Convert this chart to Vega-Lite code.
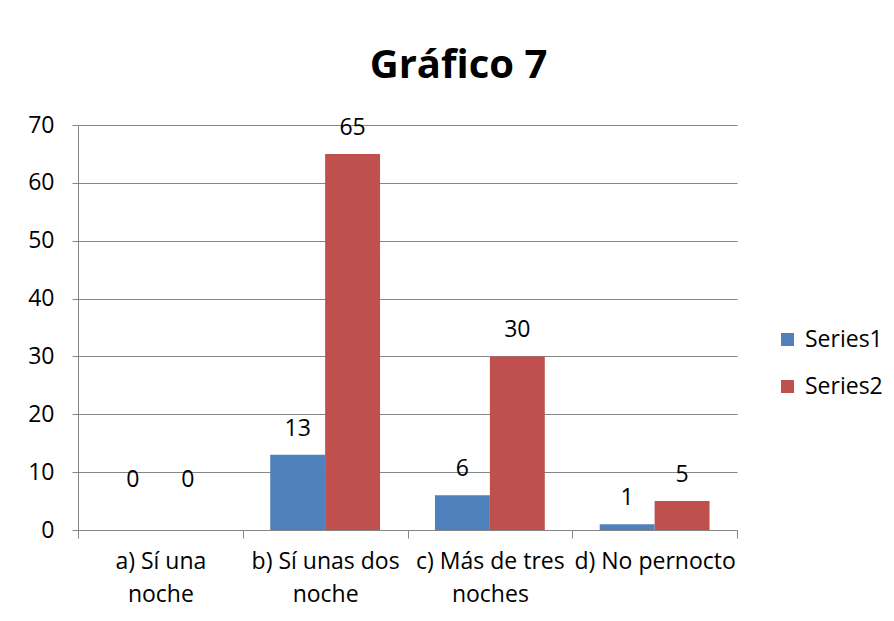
{
  "$schema": "https://vega.github.io/schema/vega-lite/v6.json",
  "width": 659,
  "height": 405,
  "autosize": {"type": "none"},
  "padding": {"left": 78, "top": 125, "right": 157, "bottom": 91},
  "background": "white",
  "title": {
    "text": "Gráfico 7",
    "font": "Open Sans",
    "fontSize": 40,
    "fontWeight": "bold",
    "color": "#000000",
    "anchor": "middle",
    "dx": 51,
    "offset": 28
  },
  "data": {
    "values": [
      {"cat": "a) Sí una noche", "series": "Series1", "v": 0},
      {"cat": "a) Sí una noche", "series": "Series2", "v": 0},
      {"cat": "b) Sí unas dos noche", "series": "Series1", "v": 13},
      {"cat": "b) Sí unas dos noche", "series": "Series2", "v": 65},
      {"cat": "c) Más de tres noches", "series": "Series1", "v": 6},
      {"cat": "c) Más de tres noches", "series": "Series2", "v": 30},
      {"cat": "d) No pernocto", "series": "Series1", "v": 1},
      {"cat": "d) No pernocto", "series": "Series2", "v": 5}
    ]
  },
  "encoding": {
    "x": {
      "field": "cat",
      "type": "nominal",
      "sort": null,
      "title": null,
      "scale": {"paddingInner": 0, "paddingOuter": 0},
      "axis": {
        "labelAngle": 0,
        "labelFont": "Open Sans",
        "labelFontSize": 23,
        "labelColor": "#000000",
        "labelLineHeight": 33,
        "labelPadding": 12,
        "labelLimit": 0,
        "labelOverlap": false,
        "tickBand": "extent",
        "tickSize": 8,
        "tickColor": "#868686",
        "domainColor": "#868686",
        "labelExpr": "datum.value == 'a) Sí una noche' ? ['a) Sí una', 'noche'] : datum.value == 'b) Sí unas dos noche' ? ['b) Sí unas dos', 'noche'] : datum.value == 'c) Más de tres noches' ? ['c) Más de tres', 'noches'] : datum.value"
      }
    },
    "xOffset": {"field": "series", "type": "nominal", "scale": {"paddingOuter": 0.5, "paddingInner": 0}},
    "y": {
      "field": "v",
      "type": "quantitative",
      "title": null,
      "scale": {"domain": [0, 70]},
      "axis": {
        "values": [0, 10, 20, 30, 40, 50, 60, 70],
        "labelFont": "Open Sans",
        "labelFontSize": 23,
        "labelColor": "#000000",
        "labelPadding": 18,
        "tickSize": 6,
        "tickColor": "#868686",
        "domainColor": "#868686",
        "gridColor": "#868686",
        "grid": true
      }
    }
  },
  "layer": [
    {
      "mark": {"type": "bar"},
      "encoding": {
        "color": {
          "field": "series",
          "type": "nominal",
          "title": null,
          "scale": {"range": ["#4F81BD", "#C0504D"]},
          "legend": {
            "orient": "none",
            "legendX": 698,
            "legendY": 203,
            "symbolType": "square",
            "symbolSize": 169,
            "symbolStrokeWidth": 0,
            "labelFont": "Open Sans",
            "labelFontSize": 23,
            "labelColor": "#000000",
            "rowPadding": 23,
            "labelOffset": 6
          }
        }
      }
    },
    {
      "transform": [{"filter": "datum.v > 0"}],
      "mark": {"type": "text", "font": "Open Sans", "fontSize": 23, "color": "#000000", "baseline": "alphabetic", "dy": -19},
      "encoding": {"text": {"field": "v", "type": "quantitative"}}
    },
    {
      "transform": [{"filter": "datum.v == 0"}],
      "mark": {"type": "text", "font": "Open Sans", "fontSize": 23, "color": "#000000", "baseline": "alphabetic", "dy": -43},
      "encoding": {"text": {"field": "v", "type": "quantitative"}}
    }
  ],
  "config": {"view": {"stroke": null}}
}
